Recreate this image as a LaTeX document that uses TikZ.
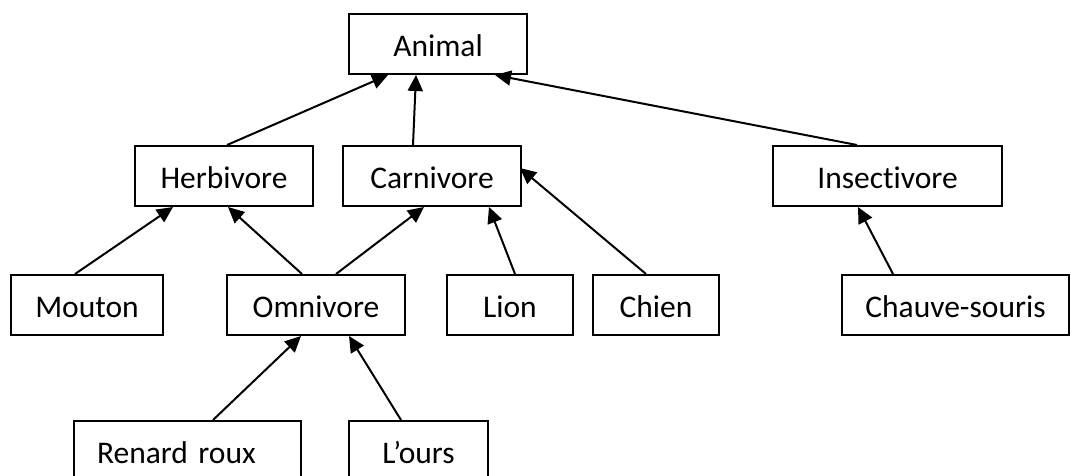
\documentclass[tikz,border=0pt]{standalone}
\usepackage{fontspec}
\setmainfont[Ligatures=NoCommon]{Carlito}
\usetikzlibrary{arrows.meta}
\begin{document}
\begin{tikzpicture}[x=1pt,y=-1pt,
  box/.style={draw=black, line width=2pt, rectangle, inner sep=0pt,
    minimum height=60pt, text height=24pt, text depth=0pt,
    font=\fontsize{31.5pt}{36pt}\selectfont},
  link/.style={draw=black, line width=2pt,
    -{Triangle[length=16pt,width=15pt]}}]
\useasboundingbox (0,0) rectangle (1071,475);
\clip (0,0) rectangle (1071,475);

% top level
\node[box, minimum width=178pt] (animal) at (438,44) {Animal};

% diet groups
\node[box, minimum width=178pt] (herb)   at (224,176) {Herbivore};
\node[box, minimum width=178pt] (carn)   at (432,176) {Carnivore};
\node[box, minimum width=229pt] (insect) at (887.5,176) {Insectivore};

% animals
\node[box, minimum width=152pt] (mouton) at (87,305) {Mouton};
\node[box, minimum width=178pt] (omni)   at (316,305) {Omnivore};
\node[box, minimum width=126pt] (lion)   at (510,305) {Lion};
\node[box, minimum width=126pt] (chien)  at (656,305) {Chien};
\node[box, minimum width=227pt] (chauve) at (955.5,305) {Chauve-souris};

% omnivores
\node[box, inner xsep=23pt, text width=181pt, align=left] (renard) at (187.5,451) {Renard roux};
\node[box, minimum width=139pt] (ours)   at (418.5,451) {L’ours};

% inheritance arrows
\draw[link] ([xshift=3pt]herb.north)      -- ([xshift=-50pt]animal.south);
\draw[link] ([xshift=-19pt]carn.north)    -- ([xshift=-22pt]animal.south);
\draw[link] ([xshift=-30.5pt]insect.north) -- ([xshift=57pt]animal.south);

\draw[link] ([xshift=-12pt]mouton.north)  -- ([xshift=-51pt]herb.south);
\draw[link] ([xshift=-14pt]omni.north)    -- ([xshift=4pt]herb.south);
\draw[link] ([xshift=20pt]omni.north)     -- ([xshift=-8pt]carn.south);
\draw[link] ([xshift=5pt]lion.north)      -- ([xshift=57pt]carn.south);
\draw[link] ([xshift=-10pt]chien.north)   -- ([shift={(-2pt,8pt)}]carn.east);
\draw[link] ([xshift=-62.5pt]chauve.north) -- ([xshift=-29.5pt]insect.south);

\draw[link] ([xshift=25.5pt]renard.north) -- ([xshift=-15pt]omni.south);
\draw[link] ([xshift=-17.5pt]ours.north)  -- ([xshift=33pt]omni.south);
\end{tikzpicture}
\end{document}
